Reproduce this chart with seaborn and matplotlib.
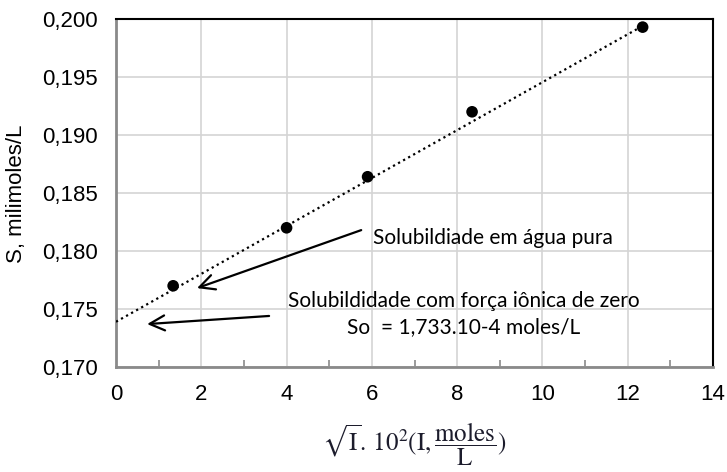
import numpy as np
import pandas as pd
import matplotlib
matplotlib.use("Agg")
import matplotlib.pyplot as plt
from matplotlib.ticker import MultipleLocator, FuncFormatter
import seaborn as sns

# Measured solubility vs. sqrt(ionic strength)
sqrt_I = [1.34, 4.00, 5.90, 8.35, 12.35]
solubility = [0.1770, 0.1820, 0.1864, 0.1920, 0.1993]

# Linear trendline (extrapolated to zero ionic strength)
trend_intercept = 0.1739
trend_slope = 0.002065
trend_x = [0.0, 12.35]

x_ticks = [0, 2, 4, 6, 8, 10, 12, 14]
y_ticks = [0.170, 0.175, 0.180, 0.185, 0.190, 0.195, 0.200]

label_pure = "Solubildiade em água pura"
label_zero_1 = "Solubildidade com força iônica de zero"
label_zero_2 = "So  = 1,733.10-4 moles/L"

sns.set_theme(style="white")
plt.rcParams["font.family"] = ["Liberation Sans", "DejaVu Sans"]

fig = plt.figure(figsize=(7.27, 4.72), dpi=100)
ax = fig.add_axes([116 / 727, 1 - 367 / 472, (713 - 116) / 727, (367 - 19) / 472])

df = pd.DataFrame({"x": sqrt_I, "S": solubility})
trend_df = pd.DataFrame({
    "x": trend_x,
    "S": [trend_intercept + trend_slope * v for v in trend_x],
})

ax.set_xlim(0, 14)
ax.set_ylim(0.170, 0.200)
ax.set_xticks(x_ticks)
ax.set_yticks(y_ticks)
ax.xaxis.set_minor_locator(MultipleLocator(1))
ax.yaxis.set_major_formatter(FuncFormatter(lambda v, p: f"{v:.3f}".replace(".", ",")))
ax.xaxis.set_major_formatter(FuncFormatter(lambda v, p: f"{v:.0f}"))

ax.grid(True, which="major", color="#d4d4d4", linewidth=1.2)
ax.set_axisbelow(True)

sns.lineplot(data=trend_df, x="x", y="S", ax=ax, color="black",
             linewidth=1.6, linestyle=(0, (1, 1.6)), zorder=3)
sns.scatterplot(data=df, x="x", y="S", ax=ax, color="black", s=70,
                edgecolor="none", zorder=4)

for side in ("left", "bottom"):
    ax.spines[side].set_color("#8a8a8a")
    ax.spines[side].set_linewidth(2.0)
for side in ("top", "right"):
    ax.spines[side].set_color("black")
    ax.spines[side].set_linewidth(1.5)
    ax.spines[side].set_visible(True)

ax.tick_params(axis="both", which="major", labelsize=16, colors="#8a8a8a",
               labelcolor="black", direction="out", length=6, width=1.2)
ax.tick_params(axis="y", which="major", pad=7)
ax.tick_params(axis="x", which="major", length=5, pad=7)
ax.tick_params(axis="x", which="minor", direction="in", length=5, width=1.2,
               colors="#8a8a8a", bottom=True)

ax.set_ylabel("S, milimoles/L", fontsize=16, color="black")
ax.yaxis.set_label_coords(-0.149, 0.497)
ax.set_xlabel(r"$\sqrt{\mathrm{I}}.\,10^{2}(\mathrm{I},\dfrac{\mathrm{moles}}{\mathrm{L}})$",
              fontsize=18, color="#1c1c2c", math_fontfamily="stix", va="center")
ax.xaxis.set_label_coords(0.5, -0.221)

arrow_kw = dict(arrowstyle="->,head_length=0.9,head_width=0.45", color="black",
                linewidth=1.6, shrinkA=0, shrinkB=0)
ax.annotate("", xy=(1.90, 0.1768), xytext=(5.75, 0.1818), arrowprops=arrow_kw)
ax.annotate("", xy=(0.73, 0.1737), xytext=(3.59, 0.1744), arrowprops=arrow_kw)

ann_font = dict(family=["Lato", "DejaVu Sans"], fontsize=15, color="black")
ax.text(6.03, 0.1811, label_pure, ha="left", va="center", **ann_font)
ax.text(8.16, 0.1757, label_zero_1, ha="center", va="center", **ann_font)
ax.text(8.16, 0.17345, label_zero_2, ha="center", va="center", **ann_font)

fig.savefig("out.png", dpi=100)
